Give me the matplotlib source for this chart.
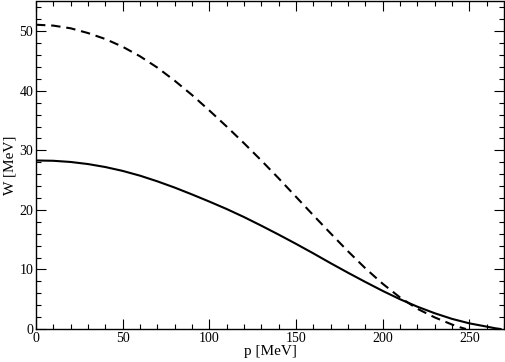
import matplotlib
matplotlib.use("Agg")
from matplotlib import pyplot as plt
from matplotlib.ticker import MultipleLocator

## momentum grid [MeV] and values
p_solid = [0, 10, 20, 30, 40, 50, 60, 70, 80, 90, 100, 110, 120, 130, 140,
           150, 160, 170, 180, 190, 200, 210, 220, 230, 240, 250, 260, 265, 268]
w_solid = [28.3, 28.25, 28.05, 27.7, 27.2, 26.55, 25.75, 24.8, 23.75, 22.6,
           21.4, 20.15, 18.8, 17.35, 15.85, 14.3, 12.7, 11.05, 9.45, 7.9, 6.4,
           5.0, 3.75, 2.65, 1.7, 0.95, 0.4, 0.12, 0.0]

p_dash = [0, 10, 20, 30, 40, 50, 60, 70, 80, 90, 100, 110, 120, 130, 140,
          150, 160, 170, 180, 190, 200, 210, 220, 230, 240, 245, 248]
w_dash = [51.1, 50.95, 50.5, 49.7, 48.7, 47.4, 45.8, 43.9, 41.7, 39.3, 36.7,
          34.0, 31.2, 28.3, 25.3, 22.2, 19.1, 16.05, 13.05, 10.2, 7.6, 5.3,
          3.4, 1.95, 0.75, 0.25, 0.0]

plt.rcParams['font.family'] = ['Liberation Serif', 'DejaVu Serif']

fig = plt.figure(figsize=(5.06, 3.62), dpi=100)
ax = fig.add_axes([36 / 506, 1 - 329 / 362, 468 / 506, 327.5 / 362])

ax.plot(p_solid, w_solid, color='black', lw=1.5)
ax.plot(p_dash, w_dash, color='black', lw=1.5, dashes=(4.5, 2.8))

ax.set_xlim(0, 270)
ax.set_ylim(0, 55)
ax.xaxis.set_major_locator(MultipleLocator(50))
ax.xaxis.set_minor_locator(MultipleLocator(10))
ax.yaxis.set_major_locator(MultipleLocator(10))
ax.yaxis.set_minor_locator(MultipleLocator(2))
ax.tick_params(which='both', direction='in', top=True, right=True,
               width=0.8, labelsize=10, pad=2)
ax.tick_params(which='major', length=7)
ax.tick_params(which='minor', length=3.5)
for s in ax.spines.values():
    s.set_linewidth(1.0)

ax.set_xlabel("p [MeV]", fontsize=11, labelpad=0)
ax.set_ylabel("W [MeV]", fontsize=11, labelpad=2)

fig.savefig("out.png", dpi=100)
